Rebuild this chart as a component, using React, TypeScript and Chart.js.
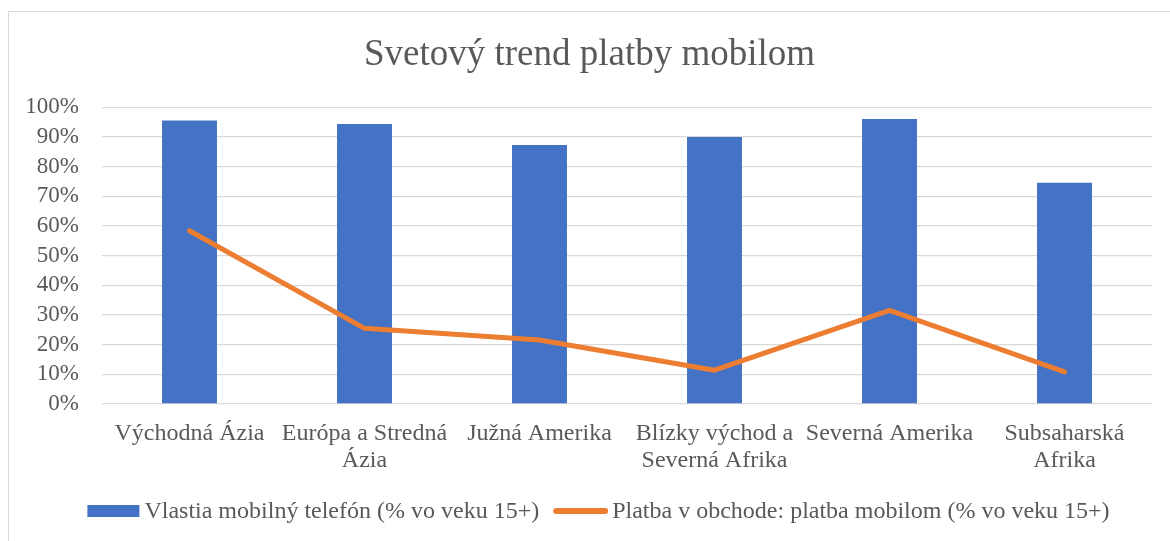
import React, { useEffect, useRef } from "react";
import { Chart, registerables } from "chart.js";

Chart.register(...registerables);

const TITLE = "Svetový trend platby mobilom";
const categories: (string | string[])[] = [
  "Východná Ázia",
  ["Európa a Stredná", "Ázia"],
  "Južná Amerika",
  ["Blízky východ a", "Severná Afrika"],
  "Severná Amerika",
  ["Subsaharská", "Afrika"],
];
const yTickLabels = ["0%", "10%", "20%", "30%", "40%", "50%", "60%", "70%", "80%", "90%", "100%"];
const phoneLabel = "Vlastia mobilný telefón (% vo veku 15+)";
const phoneValues = [0.956, 0.944, 0.873, 0.9, 0.961, 0.746];
const payLabel = "Platba v obchode: platba mobilom (% vo veku 15+)";
const payValues = [0.584, 0.255, 0.216, 0.114, 0.316, 0.108];

const FONT = "'Liberation Serif', 'Times New Roman', serif";
const TEXT = "#595959";
const BLUE = "#4472C4";
const ORANGE = "#ED7D31";

const legendPlugin = {
  id: "customLegend",
  afterDraw(chart: any) {
    const ctx = chart.ctx as CanvasRenderingContext2D;
    ctx.save();
    ctx.font = `24px ${FONT}`;
    ctx.textBaseline = "middle";
    ctx.fillStyle = TEXT;
    const w1 = ctx.measureText(phoneLabel).width;
    const w2 = ctx.measureText(payLabel).width;
    const total = 52 + 5 + w1 + 14 + 55 + 4 + w2;
    let x = chart.width / 2 + 9 - total / 2;
    const y = 499;
    ctx.fillStyle = BLUE;
    ctx.fillRect(x, y - 6, 52, 12);
    x += 52 + 5;
    ctx.fillStyle = TEXT;
    ctx.textAlign = "left";
    ctx.fillText(phoneLabel, x, y + 1);
    x += w1 + 14;
    ctx.strokeStyle = ORANGE;
    ctx.lineWidth = 6;
    ctx.lineCap = "round";
    ctx.beginPath();
    ctx.moveTo(x + 3, y);
    ctx.lineTo(x + 52, y);
    ctx.stroke();
    x += 55 + 4;
    ctx.fillStyle = TEXT;
    ctx.fillText(payLabel, x, y + 1);
    ctx.restore();
  },
};

export default function App() {
  const ref = useRef<HTMLCanvasElement | null>(null);
  useEffect(() => {
    if (!ref.current) return;
    const chart = new Chart(ref.current, {
      type: "bar",
      data: {
        labels: categories,
        datasets: [
          {
            type: "line",
            label: payLabel,
            data: payValues,
            borderColor: ORANGE,
            backgroundColor: ORANGE,
            borderWidth: 5,
            borderCapStyle: "round",
            borderJoinStyle: "round",
            pointRadius: 0,
            pointHoverRadius: 0,
            tension: 0,
            order: 0,
          } as any,
          {
            type: "bar",
            label: phoneLabel,
            data: phoneValues,
            backgroundColor: BLUE,
            barPercentage: 0.314,
            categoryPercentage: 1,
            order: 1,
          },
        ],
      },
      plugins: [legendPlugin],
      options: {
        animation: false,
        responsive: false,
        layout: { padding: { left: 18, right: 18, top: 0, bottom: 51 } },
        plugins: {
          title: {
            display: true,
            text: TITLE,
            color: TEXT,
            font: { family: FONT, size: 37, weight: "normal" },
            padding: { top: 21, bottom: 30 },
          },
          tooltip: { enabled: false },
          legend: { display: false },
        },
        scales: {
          x: {
            offset: true,
            grid: { display: false, drawTicks: false },
            border: { display: false },
            ticks: {
              color: TEXT,
              font: { family: FONT, size: 24, lineHeight: 1.125 },
              padding: 16,
              maxRotation: 0,
              minRotation: 0,
              autoSkip: false,
            },
          },
          y: {
            min: 0,
            max: 1,
            afterFit: (s: any) => {
              s.width = 75;
            },
            grid: { color: "#D9D9D9", lineWidth: 1.3, drawTicks: false },
            border: { display: false },
            ticks: {
              stepSize: 0.1,
              autoSkip: false,
              color: TEXT,
              padding: 23,
              font: { family: FONT, size: 23 },
              callback: (_v: any, i: number) => yTickLabels[i],
            },
          },
        },
      },
    });
    return () => chart.destroy();
  }, []);

  return (
    <div
      style={{
        position: "absolute",
        left: 8,
        top: 11,
        width: 1161,
        height: 529,
        borderLeft: "1px solid #D9D9D9",
        borderTop: "1px solid #D9D9D9",
        background: "#fff",
      }}
    >
      <canvas ref={ref} width={1161} height={529} style={{ display: "block" }} />
    </div>
  );
}
